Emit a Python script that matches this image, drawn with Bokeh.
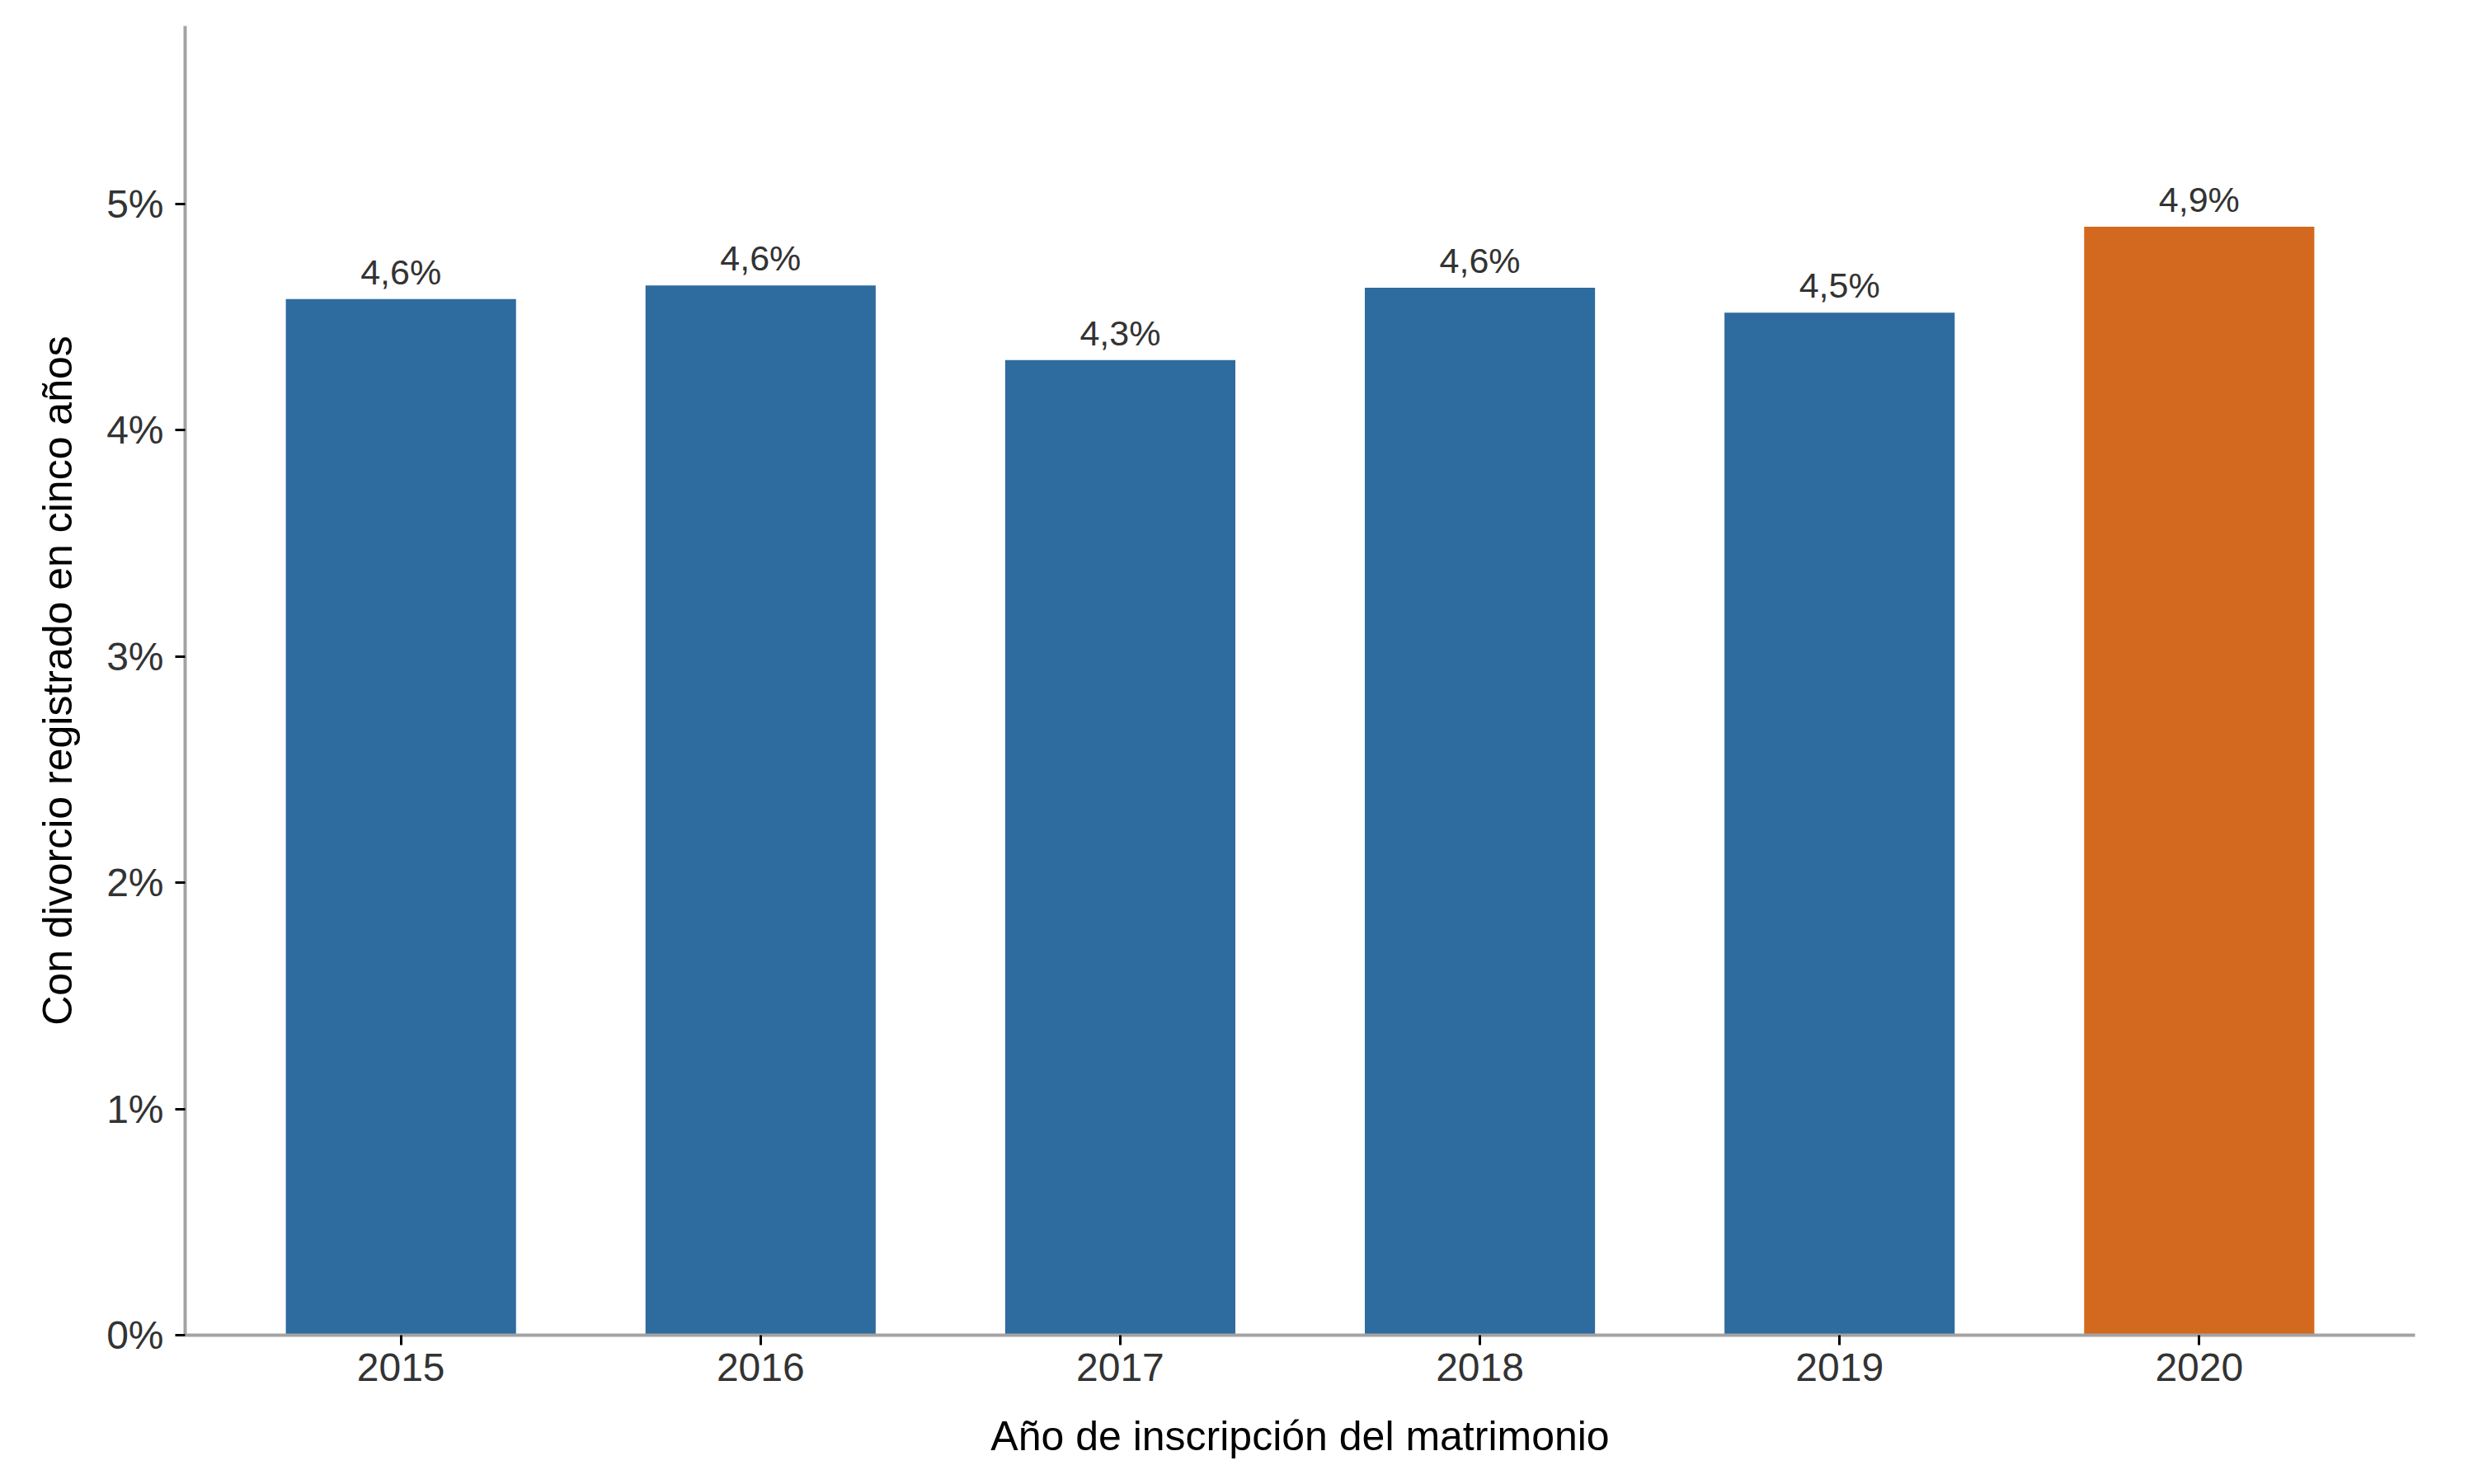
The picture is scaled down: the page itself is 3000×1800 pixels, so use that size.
from bokeh.plotting import figure
from bokeh.models import ColumnDataSource, FixedTicker, PrintfTickFormatter, FactorRange
from bokeh.core.properties import value
from bokeh.embed import file_html
from bokeh.resources import INLINE

# data
years = ["2015", "2016", "2017", "2018", "2019", "2020"]
divorce_pct = [4.58, 4.64, 4.31, 4.63, 4.52, 4.90]
highlight_year = "2020"
y_ticks = [0, 1, 2, 3, 4, 5]

BLUE = "#2E6B9F"
ORANGE = "#D2691E"
FONT = "Liberation Sans"

colors = [ORANGE if yr == highlight_year else BLUE for yr in years]
labels = [("%.1f" % v).replace(".", ",") + "%" for v in divorce_pct]

src = ColumnDataSource(data=dict(year=years, pct=divorce_pct, color=colors, label=labels))

p = figure(
    x_range=FactorRange(factors=years, range_padding=0.1, range_padding_units="absolute"),
    y_range=(0, 5.787),
    width=2984, height=1784,
    output_backend="svg", toolbar_location=None,
    min_border_left=224, min_border_right=56, min_border_top=31, min_border_bottom=165,
    x_axis_label="Año de inscripción del matrimonio",
    y_axis_label="Con divorcio registrado en cinco años",
)

p.vbar(x="year", top="pct", width=0.64, color="color", line_color=None, source=src)

p.text(x="year", y="pct", text="label", source=src,
       text_align="center", text_baseline="alphabetic", y_offset=-33,
       text_font=value(FONT), text_font_size="43px", text_color="#333333")

p.xgrid.grid_line_color = None
p.ygrid.grid_line_color = None
p.outline_line_color = None
p.background_fill_color = "white"
p.border_fill_color = "white"

p.yaxis.ticker = FixedTicker(ticks=y_ticks)
p.yaxis.formatter = PrintfTickFormatter(format="%d%%")
p.yaxis.minor_tick_line_color = None

for ax in (p.xaxis[0], p.yaxis[0]):
    ax.axis_line_color = "#A3A3A3"
    ax.axis_line_width = 4
    ax.major_tick_line_color = "black"
    ax.major_tick_line_width = 3
    ax.major_tick_out = 12
    ax.major_tick_in = 0
    ax.major_label_text_font = FONT
    ax.major_label_text_font_size = "48px"
    ax.major_label_text_color = "#333333"
    ax.axis_label_text_font = FONT
    ax.axis_label_text_font_size = "50px"
    ax.axis_label_text_font_style = "normal"
    ax.axis_label_text_color = "black"

p.xaxis.major_label_standoff = 10
p.xaxis.axis_label_standoff = 36
p.yaxis.major_label_standoff = 14
p.yaxis.axis_label_standoff = 28

open("out.html", "w").write(file_html(p, INLINE))
